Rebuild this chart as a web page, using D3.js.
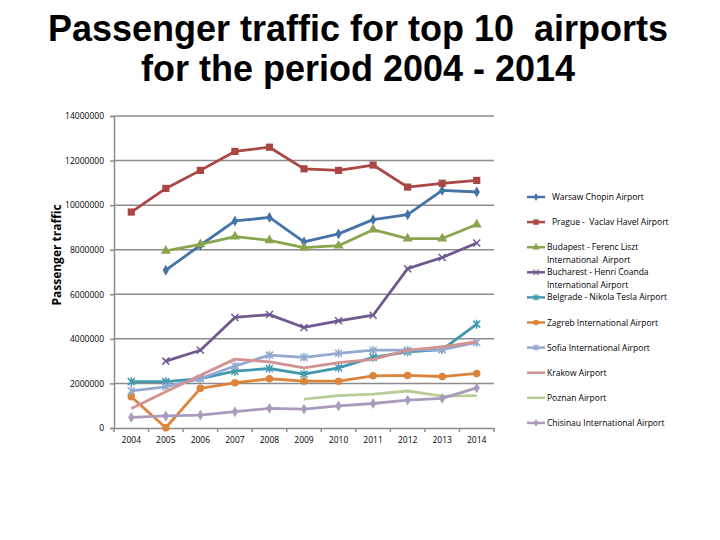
<!DOCTYPE html>
<html>
<head>
<meta charset="utf-8">
<script src="https://cdn.jsdelivr.net/npm/d3@7/dist/d3.min.js"></script>
<style>
    body { margin: 0; background: #fff; }
    svg { display: block; }
    svg text { white-space: pre; }
    .title { font-family: "Liberation Sans", Arial, sans-serif; font-weight: bold; font-size: 36px; fill: #000; }
    .axis text { font-family: "Open Sans", "DejaVu Sans", sans-serif; font-size: 8.5px; fill: #000; }
    .legend text { font-family: "Open Sans", "DejaVu Sans", sans-serif; font-size: 8.5px; fill: #000; }
</style>
</head>
<body>
<div id="chart"></div>
<script>
// values
const years = ["2004", "2005", "2006", "2007", "2008", "2009", "2010", "2011", "2012", "2013", "2014"];
const yTicks = [0, 2000000, 4000000, 6000000, 8000000, 10000000, 12000000, 14000000];

const airports = ["Warsaw Chopin Airport", "Prague -  Vaclav Havel Airport", "Budapest - Ferenc Liszt International  Airport",
    "Bucharest - Henri Coanda International Airport", "Belgrade - Nikola Tesla Airport", "Zagreb International Airport",
    "Sofia International Airport", "Krakow Airport", "Poznan Airport", "Chisinau International Airport"];

const warsaw    = [null, 7080000, 8200000, 9290000, 9450000, 8350000, 8710000, 9350000, 9570000, 10660000, 10590000];
const prague    = [9690000, 10750000, 11560000, 12410000, 12600000, 11630000, 11560000, 11800000, 10810000, 10980000, 11110000];
const budapest  = [null, 7950000, 8240000, 8590000, 8420000, 8090000, 8180000, 8900000, 8500000, 8500000, 9130000];
const bucharest = [null, 3000000, 3490000, 4960000, 5090000, 4510000, 4810000, 5060000, 7150000, 7650000, 8300000];
const belgrade  = [2080000, 2080000, 2220000, 2550000, 2670000, 2420000, 2700000, 3170000, 3420000, 3520000, 4660000];
const zagreb    = [1400000, 10000, 1780000, 2030000, 2210000, 2100000, 2100000, 2340000, 2360000, 2310000, 2450000];
const sofia     = [1670000, 1850000, 2220000, 2780000, 3270000, 3170000, 3350000, 3490000, 3490000, 3520000, 3840000];
const krakow    = [880000, 1630000, 2370000, 3090000, 2970000, 2700000, 2930000, 3080000, 3490000, 3640000, 3870000];
const poznan    = [null, null, null, null, null, 1300000, 1450000, 1520000, 1660000, 1430000, 1450000];
const chisinau  = [480000, 540000, 580000, 730000, 880000, 850000, 990000, 1100000, 1250000, 1330000, 1800000];

const seriesValues = [warsaw, prague, budapest, bucharest, belgrade, zagreb, sofia, krakow, poznan, chisinau];
const colors = ["#4572A7", "#AA4643", "#89A54E", "#71588F", "#4198AF", "#DB843D", "#93A9CF", "#D19392", "#B9CD96", "#A99BBD"];
const markers = ["diamond", "square", "triangle", "x", "star", "circle", "star", "none", "none", "diamond"];
// legend text lines and rows (some labels wrap onto two lines)
const legendLines = [["Warsaw Chopin Airport"], ["Prague -  Vaclav Havel Airport"], ["Budapest - Ferenc Liszt", "International  Airport"],
    ["Bucharest - Henri Coanda", "International Airport"], ["Belgrade - Nikola Tesla Airport"], ["Zagreb International Airport"],
    ["Sofia International Airport"], ["Krakow Airport"], ["Poznan Airport"], ["Chisinau International Airport"]];

const width = 720, height = 540;
const margin = { top: 116, left: 114, bottom: 112, right: 226 };
const innerW = width - margin.left - margin.right;
const innerH = height - margin.top - margin.bottom;

const svg = d3.select("#chart").append("svg")
    .attr("width", width).attr("height", height);

svg.append("text").attr("class", "title")
    .attr("x", 358).attr("y", 41).attr("text-anchor", "middle")
    .text("Passenger traffic for top 10  airports");
svg.append("text").attr("class", "title")
    .attr("x", 358).attr("y", 81).attr("text-anchor", "middle")
    .text("for the period 2004 - 2014");

let x = d3.scaleBand().domain(years).range([0, innerW]),
    y = d3.scaleLinear().domain([0, 14000000]).range([innerH, 0]);

let g = svg.append("g")
    .attr("transform", "translate(" + margin.left + "," + margin.top + ")");

// gridlines
g.append("g").selectAll("line")
    .data(yTicks.slice(1))
    .enter().append("line")
    .attr("x1", 0).attr("x2", innerW)
    .attr("y1", d => y(d)).attr("y2", d => y(d))
    .attr("stroke", "#8c8c8c").attr("stroke-width", 1.5);

// y axis
let yAxis = g.append("g").attr("class", "axis")
    .call(d3.axisLeft(y).tickValues(yTicks).tickFormat(d3.format("d")).tickSize(4).tickPadding(6));
yAxis.select(".domain").attr("stroke", "#8c8c8c").attr("stroke-width", 1.5);
yAxis.selectAll(".tick line").attr("stroke", "#8c8c8c").attr("stroke-width", 1.5);

// x axis, ticks between categories
let xAxis = g.append("g").attr("class", "axis")
    .attr("transform", "translate(0," + innerH + ")")
    .call(d3.axisBottom(x).tickSize(0).tickPadding(9));
xAxis.select(".domain").attr("stroke", "#8c8c8c").attr("stroke-width", 1.5);
xAxis.selectAll(".sep")
    .data(d3.range(years.length + 1))
    .enter().append("line")
    .attr("x1", i => i * x.step()).attr("x2", i => i * x.step())
    .attr("y1", 0).attr("y2", 4)
    .attr("stroke", "#8c8c8c").attr("stroke-width", 1.5);

svg.append("text")
    .attr("transform", "translate(61,255) rotate(-90)")
    .attr("text-anchor", "middle")
    .style("font-family", "\"Open Sans\", \"DejaVu Sans\", sans-serif")
    .style("font-weight", "bold").style("font-size", "12px")
    .text("Passenger traffic");

const cx = d => x(d) + x.bandwidth() / 2;

function drawMarker(sel, type, color) {
    if (type === "none") return;
    if (type === "x" || type === "star") {
        let s = 3.5;
        sel.append("path")
            .attr("d", "M" + (-s) + "," + (-s) + "L" + s + "," + s + "M" + (-s) + "," + s + "L" + s + "," + (-s) +
                (type === "star" ? "M0," + (-s - 1) + "L0," + (s + 1) : ""))
            .attr("stroke", color).attr("stroke-width", 1.5).attr("fill", "none");
        return;
    }
    let sym = { diamond: d3.symbolDiamond, square: d3.symbolSquare, triangle: d3.symbolTriangle, circle: d3.symbolCircle }[type];
    let size = { diamond: 34, square: 52, triangle: 44, circle: 44 }[type];
    sel.append("path").attr("d", d3.symbol().type(sym).size(size)).attr("fill", color);
}

let line = d3.line()
    .defined(d => d.v !== null)
    .x(d => cx(d.year))
    .y(d => y(d.v));

seriesValues.forEach((vals, i) => {
    let pts = years.map((yr, j) => ({ year: yr, v: vals[j] }));
    g.append("path")
        .datum(pts)
        .attr("fill", "none")
        .attr("stroke", colors[i])
        .attr("stroke-width", 2.8)
        .attr("stroke-linejoin", "round")
        .attr("d", line);
    pts.filter(d => d.v !== null).forEach(d => {
        let m = g.append("g").attr("transform", "translate(" + cx(d.year) + "," + y(d.v) + ")");
        drawMarker(m, markers[i], colors[i]);
    });
});

// legend
let legend = svg.append("g").attr("class", "legend");
airports.forEach((name, i) => {
    let ly = 197 + i * 25.1;
    let item = legend.append("g").attr("transform", "translate(0," + ly + ")");
    item.append("line").attr("x1", 527).attr("x2", 545).attr("y1", 0).attr("y2", 0)
        .attr("stroke", colors[i]).attr("stroke-width", 2.5);
    let m = item.append("g").attr("transform", "translate(536,0) scale(0.75)");
    drawMarker(m, markers[i], colors[i]);
    let tx = (i < 2) ? 552 : 547;
    legendLines[i].forEach((t, k) => {
        item.append("text").attr("x", tx).attr("y", 3 + k * 12.5).text(t);
    });
});
</script>
</body>
</html>
